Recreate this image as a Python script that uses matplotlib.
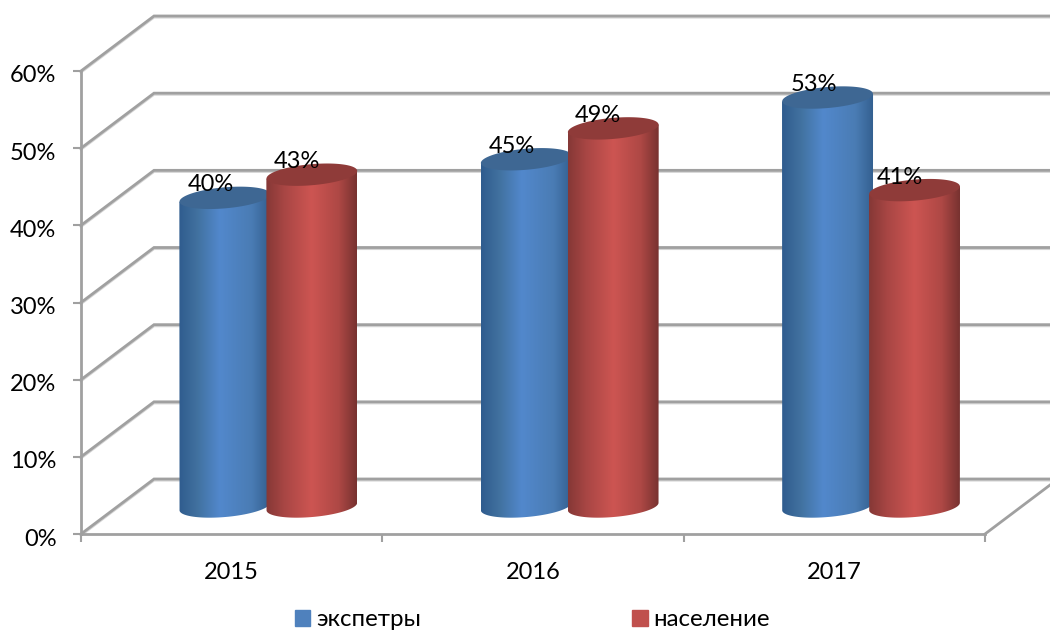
import matplotlib
matplotlib.use('Agg')
import matplotlib.pyplot as plt
import numpy as np
from matplotlib.colors import LinearSegmentedColormap
from matplotlib.patches import Patch, PathPatch
from matplotlib.path import Path
from matplotlib.transforms import ScaledTranslation

years = ['2015', '2016', '2017']
experts = [40, 45, 53]
population = [43, 49, 41]
series_names = ['экспетры', 'население']
y_ticks = [0, 10, 20, 30, 40, 50, 60]

plt.rcParams['font.family'] = ['Lato', 'Open Sans', 'DejaVu Sans']
GRID = '#a0a0a0'
BLUE = '#4f81bd'
RED = '#c0504d'

blue_cm = LinearSegmentedColormap.from_list('b', [(0, '#2f5c8e'), (.2, '#41719f'), (.45, '#5288cc'), (.8, '#4a7cb4'), (1, '#335f8f')])
red_cm = LinearSegmentedColormap.from_list('r', [(0, '#853836'), (.2, '#a84644'), (.5, '#cd5552'), (.8, '#ae4845'), (1, '#773230')])

fig = plt.figure(figsize=(10.5, 6.3), dpi=100)
ax = fig.add_axes([81/1050, (630-534)/630, (985-81)/1050, (534-71)/630])
ax.set_xlim(0, 3)
ax.set_ylim(0, 60)

# pixel sizes in data units
px_x = 3 / (985 - 81)
px_y = 60 / (534 - 71)
depth_x = 73 * px_x
depth_y = 55 * px_y

# back wall and side wall, a pale line underneath works as the shadow
for v in y_ticks:
    ax.plot([0, depth_x, 3 + depth_x], [v - 0.15, v + depth_y - 0.15, v + depth_y - 0.15], color='#d4d4d4', lw=2, clip_on=False, zorder=1)
    ax.plot([0, depth_x, 3 + depth_x], [v, v + depth_y, v + depth_y], color=GRID, lw=2, clip_on=False, zorder=1, solid_joinstyle='miter')
ax.plot([3, 3 + depth_x], [0, depth_y], color=GRID, lw=2, clip_on=False, zorder=1)


def cylinder(xc, val, cmap, top_color):
    a = 45.5 * px_x
    tilt = np.radians(5)
    base = depth_y / 2
    # tilted ellipse in pixel space, then back to data units
    t = np.linspace(0, 2 * np.pi, 121)
    ex = 45.5 * np.cos(t)
    ey = 10.5 * np.sin(t)
    dx = (ex * np.cos(tilt) - ey * np.sin(tilt)) * px_x
    dy = (ex * np.sin(tilt) + ey * np.cos(tilt)) * px_y
    low = (t >= np.pi) & (t <= 2 * np.pi)
    body_x = np.r_[xc + dx[low], xc + a, xc - a]
    body_y = np.r_[base + dy[low], val + base + dy[low][-1], val + base + dy[low][0]]
    im = ax.imshow(np.linspace(0, 1, 256)[None, :], cmap=cmap, aspect='auto', extent=[xc - a, xc + a, 0, val + depth_y], zorder=3)
    patch = PathPatch(Path(np.c_[body_x, body_y]), transform=ax.transData, fc='none', ec='none')
    ax.add_patch(patch)
    im.set_clip_path(patch)
    ax.fill(xc + dx, val + base + dy, color=top_color, zorder=3, lw=0)


step = 87 * px_x
for i in range(len(years)):
    center = i + 0.5 + depth_x / 2
    xb = center - step / 2 + 0.2 * px_x
    xr = center + step / 2 + 0.2 * px_x
    cylinder(xb, experts[i], blue_cm, '#3e6793')
    cylinder(xr, population[i], red_cm, '#8f3b39')
    ax.text(xb - 14 * px_x, experts[i] + depth_y / 2 + 13 * px_y, f'{experts[i]}%', ha='center', va='center', fontsize=17, zorder=5, color='black')
    ax.text(xr - 15 * px_x, population[i] + depth_y / 2 + 13 * px_y, f'{population[i]}%', ha='center', va='center', fontsize=17, zorder=5, color='black')

ax.set_xlim(0, 3)
ax.set_ylim(0, 60)

for s in ['top', 'right']:
    ax.spines[s].set_visible(False)
for s in ['left', 'bottom']:
    ax.spines[s].set_color(GRID)
    ax.spines[s].set_linewidth(2)

ax.set_yticks(y_ticks)
ax.set_yticklabels([f'{v}%' for v in y_ticks], fontsize=17)
ax.tick_params(axis='y', length=6, width=1.5, color=GRID, pad=11.7)
for lab in ax.get_yticklabels():
    lab.set_transform(lab.get_transform() + ScaledTranslation(0, -3 / 100, fig.dpi_scale_trans))
ax.set_xticks([0, 1, 2, 3])
ax.set_xticklabels([])
ax.tick_params(axis='x', which='major', length=6, width=1.5, color=GRID)
ax.set_xticks([0.5, 1.5, 2.5], minor=True)
ax.set_xticklabels(years, minor=True, fontsize=17)
ax.tick_params(axis='x', which='minor', length=0, pad=20)

handles = [Patch(color=BLUE, label=series_names[0]), Patch(color=RED, label=series_names[1])]
fig.legend(handles=handles, loc='center left', bbox_to_anchor=(271/1050, 1 - 620/630), ncol=2, frameon=False, fontsize=17.3,
           handlelength=0.63, handleheight=0.63, handletextpad=0.25, columnspacing=8.8, borderpad=0.5)

fig.savefig('out.png', dpi=100)
